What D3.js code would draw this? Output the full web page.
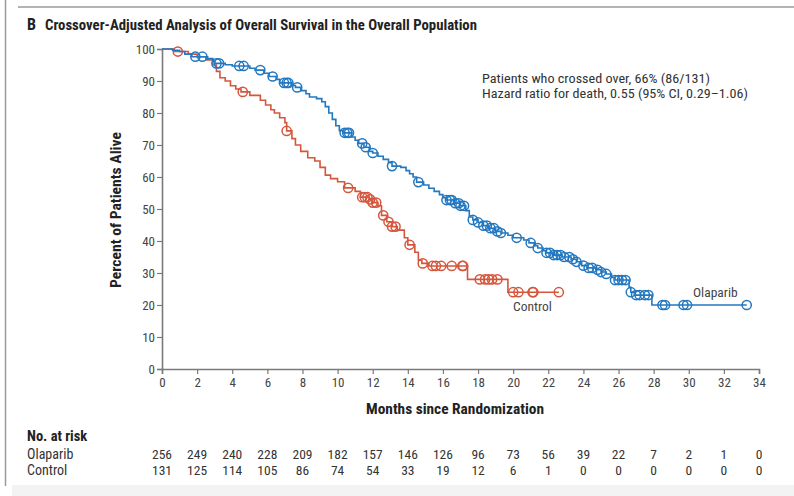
<!DOCTYPE html>
<html><head><meta charset="utf-8">
<script src="https://cdn.jsdelivr.net/npm/d3@7"></script>
<style>
html,body{margin:0;padding:0;background:#fff;}
svg{display:block;}
text{font-family:"Liberation Sans Narrow","Roboto Condensed","Arial Narrow","Liberation Sans",sans-serif;}
</style></head>
<body>
<svg id="chart" width="794" height="496"></svg>
<script>
// ---------- DATA ----------
const xTicks = [0,2,4,6,8,10,12,14,16,18,20,22,24,26,28,30,32,34];
const yTicks = [0,10,20,30,40,50,60,70,80,90,100];

// Olaparib step curve: times (months) and survival (%) after each step
const olaTimes = [0,0.6,1.0,1.3,1.7,2.6,2.9,3.0,3.6,4.0,5.0,5.3,5.8,6.1,6.5,6.7,7.4,7.6,7.9,8.2,8.4,8.8,9.1,9.3,9.5,9.7,9.9,10.1,10.3,10.8,11.0,11.2,11.5,11.8,12.0,12.3,12.6,12.9,13.1,13.6,13.9,14.1,14.3,14.5,14.9,15.2,15.5,15.8,16.0,16.2,16.6,17.0,17.3,17.5,17.7,18.0,18.3,18.6,19.0,19.3,19.7,20.0,20.6,20.9,21.2,21.4,21.7,21.9,22.3,22.8,23.3,23.6,23.9,24.2,24.7,25.0,25.3,25.6,25.8,26.6,26.7,26.9,27.9,33.3];
const olaSurv  = [100,99.6,99.2,98.4,97.6,97.0,96.2,95.5,95.1,94.7,94.0,93.4,92.4,91.4,90.5,89.4,88.6,88.0,87.0,86.0,85.0,84.5,83.5,82.0,80.0,78.0,76.0,74.5,73.8,72.5,71.5,70.5,69.3,68.0,67.5,66.5,65.5,64.5,63.4,63.0,62.0,61.0,60.0,58.4,57.5,56.5,55.5,54.5,53.5,52.8,51.8,51.0,49.5,47.5,46.6,45.8,44.8,44.0,43.0,42.5,41.8,41.0,40.3,39.4,38.5,37.8,37.0,36.3,35.6,35.0,34.3,33.5,32.3,31.6,31.0,30.3,29.7,28.6,27.8,25.5,24.0,23.1,20.0,20.0];
const olaCensor = [1.9,2.3,3.1,3.25,4.4,4.65,5.6,6.3,6.95,7.1,7.2,7.7,10.4,10.55,10.65,11.4,11.6,12.0,13.1,14.6,16.2,16.4,16.5,16.7,16.9,17.0,17.2,17.7,18.0,18.3,18.5,18.7,18.9,19.1,19.3,20.2,21.0,21.4,21.9,22.1,22.3,22.5,22.7,22.9,23.2,23.4,23.6,24.0,24.3,24.5,24.8,25.0,25.3,25.8,26.0,26.2,26.4,26.7,27.0,27.2,27.5,27.7,28.5,28.65,29.7,29.9,33.3];

// Control step curve
const ctlTimes = [0,0.7,1.5,2.0,2.5,2.9,3.1,3.3,3.6,3.9,4.2,4.5,5.0,5.6,5.9,6.2,6.4,6.7,7.0,7.1,7.4,7.6,7.9,8.3,8.7,9.0,9.3,9.6,10.0,10.4,11.0,11.3,11.8,12.0,12.3,12.5,12.8,13.1,13.4,13.8,14.0,14.4,14.6,14.8,15.2,17.4,19.7,22.6];
const ctlSurv  = [100,99.2,98.4,97.6,96.6,95.0,93.0,91.0,90.0,88.5,87.5,86.6,85.5,84.0,82.5,81.0,80.0,78.5,77.0,74.4,72.0,70.0,68.0,66.0,65.0,63.0,60.6,59.5,58.5,56.6,55.5,53.7,53.0,52.0,51.0,48.0,46.0,44.5,43.4,41.0,38.8,36.5,34.0,33.0,32.2,28.0,24.0,24.0];
const ctlCensor = [0.9,4.6,7.1,10.6,11.4,11.55,11.7,11.85,12.0,12.2,12.6,12.9,13.1,13.3,14.1,14.85,15.4,15.6,15.9,16.5,17.1,17.15,18.1,18.4,18.6,18.8,19.1,20.0,20.3,21.1,21.15,22.6];

const riskOla = [256,249,240,228,209,182,157,146,126,96,73,56,39,22,7,2,1,0];
const riskCtl = [131,125,114,105,86,74,54,33,19,12,6,1,0,0,0,0,0,0];

const titleLetter = "B";
const titleText = "Crossover-Adjusted Analysis of Overall Survival in the Overall Population";
const annot = ["Patients who crossed over, 66% (86/131)", "Hazard ratio for death, 0.55 (95% CI, 0.29–1.06)"];

// ---------- DRAW ----------
const BLUE = "#2378c0", RED = "#d5563d", AX = "#7a7a7a", TXT = "#333";
const svg = d3.select("#chart");

// frame
svg.append("rect").attr("x",12).attr("y",485).attr("width",782).attr("height",11).attr("fill","#f3f3f3");
svg.append("line").attr("x1",5.5).attr("x2",5.5).attr("y1",0).attr("y2",486).attr("stroke","#9a9a9a").attr("stroke-width",1.5);
svg.append("line").attr("x1",18).attr("x2",794).attr("y1",7).attr("y2",7).attr("stroke","#9a9a9a").attr("stroke-width",1.5);

// title
svg.append("text").attr("x",27).attr("y",30).attr("font-weight","bold").attr("font-size",16).attr("fill","#222").text(titleLetter);
svg.append("text").attr("x",45).attr("y",30).attr("font-weight","bold").attr("font-size",15.5).attr("fill","#222")
  .attr("textLength",432).attr("lengthAdjust","spacingAndGlyphs").text(titleText);

const x = d3.scaleLinear().domain([0,34]).range([162,759]);
const y = d3.scaleLinear().domain([0,100]).range([369,49]);

// axes
const gx = svg.append("g").attr("transform","translate(0,369)")
  .call(d3.axisBottom(x).tickValues(xTicks).tickSize(5).tickPadding(4));
const gy = svg.append("g").attr("transform","translate(162,0)")
  .call(d3.axisLeft(y).tickValues(yTicks).tickSize(5).tickPadding(2));
[gx,gy].forEach(g=>{
  g.select(".domain").attr("stroke",AX).attr("stroke-width",1.6);
  g.selectAll(".tick line").attr("stroke",AX).attr("stroke-width",1.2);
  g.selectAll(".tick text").attr("fill","#444").attr("font-size",13)
   .style("font-family",'"Liberation Sans Narrow","Roboto Condensed","Arial Narrow",sans-serif');
});
gy.selectAll(".tick text").attr("dy","0.35em");

// axis titles
svg.append("text").attr("x",455).attr("y",414).attr("text-anchor","middle").attr("font-weight","bold")
  .attr("font-size",14).attr("fill","#222").attr("textLength",178).attr("lengthAdjust","spacingAndGlyphs")
  .text("Months since Randomization");
svg.append("text").attr("transform","translate(121,210) rotate(-90)").attr("text-anchor","middle")
  .attr("font-weight","bold").attr("font-size",14).attr("fill","#222")
  .attr("textLength",156).attr("lengthAdjust","spacingAndGlyphs").text("Percent of Patients Alive");

// curves
function series(times, surv){ return times.map((t,i)=>({t, s:surv[i]})); }
const line = d3.line().x(d=>x(d.t)).y(d=>y(d.s)).curve(d3.curveStepAfter);
function survAt(times, surv, t){
  const i = d3.bisectRight(times, t);
  return surv[Math.max(0,i-1)];
}
function drawCurve(times, surv, censor, col){
  svg.append("path").datum(series(times,surv)).attr("d",line)
    .attr("fill","none").attr("stroke",col).attr("stroke-width",1.6);
  svg.append("g").selectAll("circle").data(censor).join("circle")
    .attr("cx",d=>x(d)).attr("cy",d=>y(survAt(times,surv,d))).attr("r",4.6)
    .attr("fill","none").attr("stroke",col).attr("stroke-width",1.5);
}
drawCurve(ctlTimes, ctlSurv, ctlCensor, RED);
drawCurve(olaTimes, olaSurv, olaCensor, BLUE);

// labels
svg.append("text").attr("x",693).attr("y",297).attr("font-size",13.5).attr("fill","#444").text("Olaparib");
svg.append("text").attr("x",513).attr("y",311).attr("font-size",13.5).attr("fill","#444").text("Control");

annot.forEach((s,i)=>{
  svg.append("text").attr("x",482).attr("y",82.5+i*15).attr("font-size",13.5).attr("fill",TXT)
    .attr("textLength",i===0?228:266).attr("lengthAdjust","spacingAndGlyphs").text(s);
});

// risk table
svg.append("text").attr("x",27).attr("y",441).attr("font-weight","bold").attr("font-size",14.5).attr("fill","#222").text("No. at risk");
svg.append("text").attr("x",27).attr("y",459).attr("font-size",14).attr("fill",TXT).text("Olaparib");
svg.append("text").attr("x",27).attr("y",475).attr("font-size",14).attr("fill",TXT).text("Control");
svg.append("g").selectAll("text").data(riskOla).join("text")
  .attr("x",(d,i)=>x(xTicks[i])).attr("y",459).attr("text-anchor","middle").attr("font-size",13.5).attr("fill",TXT).text(d=>d);
svg.append("g").selectAll("text").data(riskCtl).join("text")
  .attr("x",(d,i)=>x(xTicks[i])).attr("y",475).attr("text-anchor","middle").attr("font-size",13.5).attr("fill",TXT).text(d=>d);
</script>
</body></html>
